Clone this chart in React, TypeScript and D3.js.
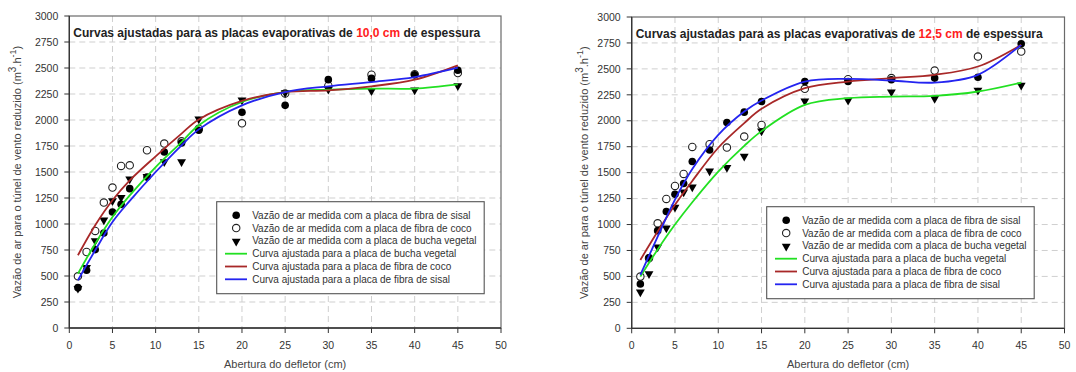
import * as d3 from "d3";

// abertura do defletor (cm) where the airflow was measured
const aberturas = [1, 2, 3, 4, 5, 6, 7, 9, 11, 13, 15, 20, 25, 30, 35, 40, 45];
// abscissas used to trace the fitted curves
const curvaX = [1, 3, 5, 7, 10, 13, 15, 20, 25, 30, 35, 40, 45];

// placa de 10,0 cm
const sisal10 = [388, 555, 754, 914, 1115, 1189, 1340, 1452, 1692, 1780, 1901, 2074, 2141, 2388, 2400, 2435, 2478];
const coco10 = [497, 731, 933, 1206, 1350, 1558, 1564, 1709, 1773, 1795, 1917, 1968, 2255, 2330, 2436, 2440, 2452];
const bucha10 = [385, 587, 843, 1042, 1228, 1260, 1436, 1460, 1603, 1603, 2013, 2196, 2266, 2300, 2285, 2292, 2334];
const curvaBucha10 = [523, 811, 1067, 1275, 1548, 1788, 1950, 2173, 2269, 2292, 2302, 2302, 2343];
const curvaCoco10 = [699, 988, 1228, 1420, 1651, 1869, 2005, 2183, 2269, 2285, 2324, 2388, 2526];
const curvaSisal10 = [459, 747, 1019, 1222, 1500, 1757, 1910, 2141, 2269, 2324, 2365, 2413, 2503];

// placa de 12,5 cm
const sisal125 = [427, 680, 941, 1125, 1292, 1395, 1607, 1719, 1983, 2083, 2185, 2378, 2378, 2395, 2411, 2420, 2742];
const coco125 = [498, 675, 1012, 1247, 1372, 1488, 1748, 1774, 1742, 1848, 1960, 2308, 2401, 2411, 2484, 2619, 2667];
const bucha125 = [353, 530, 787, 970, 1170, 1317, 1366, 1520, 1553, 1662, 1906, 2195, 2202, 2282, 2218, 2298, 2346];
const curvaBucha125 = [498, 760, 1000, 1215, 1510, 1758, 1900, 2153, 2218, 2233, 2240, 2282, 2368];
const curvaCoco125 = [659, 932, 1190, 1420, 1740, 1977, 2115, 2314, 2378, 2411, 2443, 2523, 2732];
const curvaSisal125 = [514, 883, 1240, 1535, 1864, 2089, 2195, 2378, 2404, 2388, 2368, 2443, 2732];

const xTicks = d3.range(0, 51, 5);
const yTicks = d3.range(0, 3001, 250);

const legendLabels = [
  "Vazão de ar medida com a placa de fibra de sisal",
  "Vazão de ar medida com a placa de fibra de coco",
  "Vazão de ar medida com a placa de bucha vegetal",
  "Curva ajustada para a placa de bucha vegetal",
  "Curva ajustada para a placa de fibra de coco",
  "Curva ajustada para a placa de fibra de sisal",
];

const GREEN = "#22e022";
const RED = "#a82828";
const BLUE = "#2424f0";
const FONT = "Liberation Sans, Arial, sans-serif";

interface PanelProps {
  left: number;
  right: number;
  top: number;
  bottom: number;
  espessura: string;
  sisal: number[];
  coco: number[];
  bucha: number[];
  curvas: [number[], string][];
  legendX: number;
  legendY: number;
  yTitleX: number;
}

function Panel(p: PanelProps) {
  const x = d3.scaleLinear().domain([0, 50]).range([p.left, p.right]);
  const y = d3.scaleLinear().domain([0, 3000]).range([p.bottom, p.top]);
  const line = d3
    .line<number>()
    .x((_, i) => x(curvaX[i]))
    .y((d) => y(d))
    .curve(d3.curveCatmullRom.alpha(0.5));
  const tri = d3.symbol(d3.symbolTriangle, 34)()!;
  const lw = 267.5;
  const lh = 92;
  const rowY = (i: number) => p.legendY + 13.6 + i * 12.8;
  const midY = (p.top + p.bottom) / 2;

  return (
    <g fontFamily={FONT}>
      {/* grid */}
      {yTicks.slice(1, -1).map((t) => (
        <line key={"gy" + t} x1={p.left} x2={p.right} y1={y(t)} y2={y(t)}
          stroke="#cfcfcf" strokeDasharray="6,4" />
      ))}
      {xTicks.slice(1, -1).map((t) => (
        <line key={"gx" + t} x1={x(t)} x2={x(t)} y1={p.top} y2={p.bottom}
          stroke="#cfcfcf" strokeDasharray="6,4" />
      ))}
      <rect x={p.left} y={p.top} width={p.right - p.left} height={p.bottom - p.top}
        fill="none" stroke="#6a6a6a" strokeWidth={1.2} />
      <line x1={p.left} x2={p.left} y1={p.top} y2={p.bottom} stroke="#333" strokeWidth={1.3} />
      <line x1={p.left} x2={p.right} y1={p.bottom} y2={p.bottom} stroke="#333" strokeWidth={1.3} />

      {/* ticks */}
      {yTicks.map((t) => (
        <g key={"ty" + t}>
          <line x1={p.left - 5} x2={p.left} y1={y(t)} y2={y(t)} stroke="#333" />
          <text x={p.left - 11} y={y(t)} dy="0.35em" textAnchor="end" fontSize={10.5} fill="#333">
            {t}
          </text>
        </g>
      ))}
      {xTicks.map((t) => (
        <g key={"tx" + t}>
          <line x1={x(t)} x2={x(t)} y1={p.bottom} y2={p.bottom + 5} stroke="#333" />
          <text x={x(t)} y={p.bottom + 21} textAnchor="middle" fontSize={10.5} fill="#333">
            {t}
          </text>
        </g>
      ))}
      <text x={(p.left + p.right) / 2} y={p.bottom + 40} textAnchor="middle" fontSize={11} fill="#444">
        Abertura do defletor (cm)
      </text>
      <text transform={`translate(${p.yTitleX},${midY}) rotate(-90)`} textAnchor="middle"
        fontSize={11} fill="#444">
        Vazão de ar para o túnel de vento reduzido (m
        <tspan dy={-5} fontSize={10}>3</tspan>
        <tspan dy={5}>.h</tspan>
        <tspan dy={-5} fontSize={9}>-1</tspan>
        <tspan dy={5}>)</tspan>
      </text>

      {/* title */}
      <text x={p.left + 4} y={p.top + 21} fontSize={12} fontWeight="bold" fill="#222">
        Curvas ajustadas para as placas evaporativas de{" "}
        <tspan fill="#ff2020">{p.espessura}</tspan> de espessura
      </text>

      {/* measured points */}
      {p.coco.map((v, i) => (
        <circle key={"c" + i} cx={x(aberturas[i])} cy={y(v)} r={3.7}
          fill="#fff" stroke="#222" strokeWidth={1.1} />
      ))}
      {p.bucha.map((v, i) => (
        <path key={"b" + i} d={tri} fill="#000"
          transform={`translate(${x(aberturas[i])},${y(v) + 0.5}) rotate(180)`} />
      ))}
      {p.sisal.map((v, i) => (
        <circle key={"s" + i} cx={x(aberturas[i])} cy={y(v)} r={3.8} fill="#000" />
      ))}

      {/* fitted curves */}
      {p.curvas.map(([vals, color], i) => (
        <path key={"l" + i} d={line(vals)!} fill="none" stroke={color} strokeWidth={1.8} />
      ))}

      {/* legend */}
      <rect x={p.legendX} y={p.legendY} width={lw} height={lh} fill="#fff" stroke="#555" strokeWidth={1.1} />
      <circle cx={p.legendX + 19.5} cy={rowY(0)} r={3.8} fill="#000" />
      <circle cx={p.legendX + 19.5} cy={rowY(1)} r={3.7} fill="#fff" stroke="#222" strokeWidth={1.1} />
      <path d={tri} fill="#000" transform={`translate(${p.legendX + 19.5},${rowY(2) + 0.5}) rotate(180)`} />
      {[GREEN, RED, BLUE].map((c, i) => (
        <line key={"lg" + i} x1={p.legendX + 8.3} x2={p.legendX + 30.3}
          y1={rowY(i + 3)} y2={rowY(i + 3)} stroke={c} strokeWidth={1.8} />
      ))}
      {legendLabels.map((s, i) => (
        <text key={"lt" + i} x={p.legendX + 35.5} y={rowY(i)} dy="0.35em" fontSize={10} fill="#333">
          {s}
        </text>
      ))}
    </g>
  );
}

export default function App() {
  return (
    <svg width={1076} height={372} style={{ position: "absolute", left: 0, top: 0, background: "#fff" }}>
      <Panel left={69.3} right={501} top={16} bottom={328} espessura="10,0 cm"
        sisal={sisal10} coco={coco10} bucha={bucha10}
        curvas={[[curvaBucha10, GREEN], [curvaCoco10, RED], [curvaSisal10, BLUE]]}
        legendX={216.7} legendY={201.7} yTitleX={21} />
      <Panel left={631.7} right={1064.5} top={17} bottom={328.3} espessura="12,5 cm"
        sisal={sisal125} coco={coco125} bucha={bucha125}
        curvas={[[curvaBucha125, GREEN], [curvaCoco125, RED], [curvaSisal125, BLUE]]}
        legendX={766.7} legendY={206.7} yTitleX={588} />
    </svg>
  );
}
